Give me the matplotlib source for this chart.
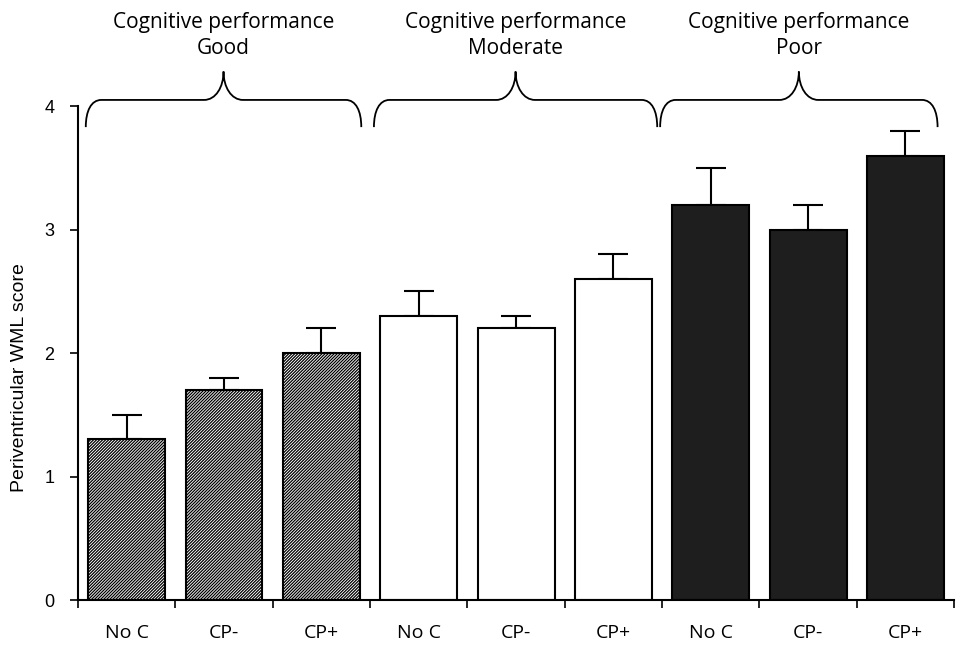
import matplotlib
matplotlib.use('Agg')
import matplotlib.pyplot as plt
from matplotlib.path import Path
from matplotlib.patches import PathPatch

# Periventricular WML score by cognitive performance group and CP status

GROUPS = ['Good', 'Moderate', 'Poor']
CATEGORIES = ['No C', 'CP-', 'CP+']
MEANS = {'Good': [1.3, 1.7, 2.0],
         'Moderate': [2.3, 2.2, 2.6],
         'Poor': [3.2, 3.0, 3.6]}
ERRS = {'Good': [0.2, 0.1, 0.2],
        'Moderate': [0.2, 0.1, 0.2],
        'Poor': [0.3, 0.2, 0.2]}
Y_TICKS = [0, 1, 2, 3, 4]
Y_LABEL = 'Periventricular WML score'
HEADER = 'Cognitive performance'

# brace extents (in bar-index units)
BRACE_SPANS = [(-0.42, 2.41), (2.54, 5.45), (5.48, 8.33)]

label_font = 'Open Sans'
axis_font = 'Liberation Sans'

plt.rcParams['hatch.linewidth'] = 0.9

fig = plt.figure(figsize=(9.57, 6.49), dpi=100)
ax = fig.add_axes([0.0815, 0.0755, 0.9155, 0.761])

bar_width = 0.79
styles = {'Good': dict(color='white', edgecolor='black', hatch='/' * 11),
          'Moderate': dict(color='white', edgecolor='black'),
          'Poor': dict(color='#1e1e1e', edgecolor='black')}

xpos = 0
tick_labels = []
for g in GROUPS:
    xs = list(range(xpos, xpos + len(CATEGORIES)))
    ax.bar(xs, MEANS[g], width=bar_width, linewidth=1.5, zorder=2, **styles[g])
    ax.errorbar(xs, MEANS[g], yerr=[[0] * len(xs), ERRS[g]], fmt='none',
                ecolor='black', elinewidth=1.5, capsize=11, capthick=1.5, zorder=1)
    tick_labels += CATEGORIES
    xpos += len(CATEGORIES)

n = len(tick_labels)
ax.set_xlim(-0.5, n - 0.5)
ax.set_ylim(0, 4)

# boundary ticks (major) and centred labels (minor)
ax.set_xticks([i - 0.5 for i in range(n + 1)])
ax.set_xticklabels([])
ax.set_xticks(range(n), minor=True)
ax.set_xticklabels(tick_labels, minor=True, fontsize=14, family=label_font)
ax.tick_params(axis='x', which='minor', length=0, pad=17)
ax.tick_params(axis='x', which='major', length=6, width=1.2, direction='out')

ax.set_yticks(Y_TICKS)
ax.set_yticklabels([str(t) for t in Y_TICKS], fontsize=13, family=axis_font)
ax.tick_params(axis='y', length=6, width=1.2, direction='out', pad=11)
ax.set_ylabel(Y_LABEL, fontsize=14, family=axis_font)
ax.yaxis.set_label_coords(-0.057, 0.45)

for side in ['top', 'right']:
    ax.spines[side].set_visible(False)
for side in ['left', 'bottom']:
    ax.spines[side].set_linewidth(1.5)

# curly braces above each group
y_end, y_top, y_peak = 3.83, 4.05, 4.28
cx, mx = 0.16, 0.2
for (x0, x1), g in zip(BRACE_SPANS, GROUPS):
    xm = (x0 + x1) / 2
    verts = [(x0, y_end),
             (x0, y_end + (y_top - y_end) * 0.6), (x0 + cx * 0.35, y_top), (x0 + cx, y_top),
             (xm - mx, y_top),
             (xm - mx * 0.4, y_top), (xm, y_top + (y_peak - y_top) * 0.45), (xm, y_peak),
             (xm, y_top + (y_peak - y_top) * 0.45), (xm + mx * 0.4, y_top), (xm + mx, y_top),
             (x1 - cx, y_top),
             (x1 - cx * 0.35, y_top), (x1, y_end + (y_top - y_end) * 0.6), (x1, y_end)]
    codes = [Path.MOVETO,
             Path.CURVE4, Path.CURVE4, Path.CURVE4,
             Path.LINETO,
             Path.CURVE4, Path.CURVE4, Path.CURVE4,
             Path.CURVE4, Path.CURVE4, Path.CURVE4,
             Path.LINETO,
             Path.CURVE4, Path.CURVE4, Path.CURVE4]
    ax.add_patch(PathPatch(Path(verts, codes), facecolor='none', edgecolor='black',
                           linewidth=1.3, clip_on=False))
    ax.text(xm, 4.68, HEADER, ha='center', va='center', fontsize=15,
            family=label_font, clip_on=False)
    ax.text(xm, 4.47, g, ha='center', va='center', fontsize=15,
            family=label_font, clip_on=False)

fig.savefig('out.png', dpi=100)
